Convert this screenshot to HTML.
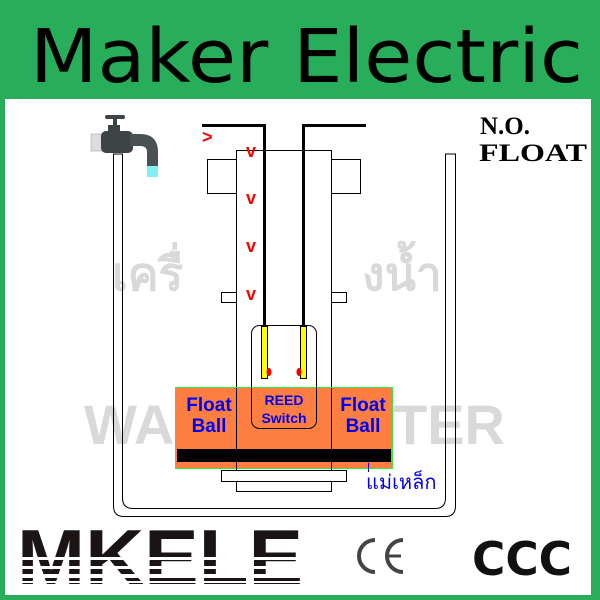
<!DOCTYPE html>
<html><head><meta charset="utf-8"><style>
html,body{margin:0;padding:0;background:#fff;}
svg{display:block;}
</style></head><body>
<svg width="600" height="600" viewBox="0 0 600 600" xmlns="http://www.w3.org/2000/svg">
<rect x="0" y="0" width="600" height="600" fill="#28ad5b"/>
<rect x="5" y="99" width="586" height="496" fill="#fff"/>
<text x="30" y="82" font-family="DejaVu Sans, sans-serif" font-size="74" fill="#000" textLength="553" lengthAdjust="spacingAndGlyphs">Maker Electric</text>

<!-- watermarks -->
<text x="112" y="290" font-family="Liberation Sans, Noto Sans CJK SC, sans-serif" font-size="46" font-weight="bold" fill="#d9d9d9">เครื่</text>
<text x="362" y="290" font-family="Liberation Sans, Noto Sans CJK SC, sans-serif" font-size="46" font-weight="bold" fill="#d9d9d9">งน้ำ</text>
<text x="84" y="444" font-family="Liberation Sans, sans-serif" font-size="56" font-weight="bold" fill="#d9d9d9">WA</text>
<text x="393" y="444" font-family="Liberation Sans, sans-serif" font-size="56" font-weight="bold" fill="#d9d9d9">TER</text>

<!-- tank -->
<path d="M113.5 154 V506 Q113.5 516.5 124 516.5 H445 Q455.5 516.5 455.5 506 V154 H445.5 V498 Q445.5 508.5 435 508.5 H133 Q122.5 508.5 122.5 498 V154 Z" fill="none" stroke="#000" stroke-width="1"/>

<!-- faucet -->
<rect x="91" y="134" width="12" height="17" fill="#ddd" stroke="#999" stroke-width="0.5"/>
<rect x="101" y="131" width="32" height="22" rx="5" fill="#3e4446"/>
<rect x="108" y="125" width="12" height="8" fill="#3e4446"/>
<rect x="105" y="115" width="20" height="4" rx="2" fill="#3e4446"/>
<rect x="113" y="117" width="4" height="10" fill="#3e4446"/>
<path d="M130 134 H140 Q158 134 158 152 V166 H147 V152 Q147 146 140 146 H130 Z" fill="#4a5153"/>
<rect x="147" y="166" width="11" height="11" fill="#7ff0f5"/>

<!-- rod -->
<rect x="236.5" y="150.5" width="95" height="341" fill="#fff" stroke="#000" stroke-width="1"/>
<rect x="207.5" y="159.5" width="29" height="34" fill="#fff" stroke="#000"/>
<rect x="331.5" y="159.5" width="29" height="34" fill="#fff" stroke="#000"/>
<rect x="221.5" y="292.5" width="15" height="10" fill="#fff" stroke="#000"/>
<rect x="331.5" y="292.5" width="15" height="10" fill="#fff" stroke="#000"/>

<!-- float -->
<rect x="175.5" y="387.5" width="217" height="81" fill="#fe7f41" stroke="#3ee53e" stroke-width="1"/>
<line x1="236.5" y1="388" x2="236.5" y2="469" stroke="#000"/>
<line x1="331.5" y1="388" x2="331.5" y2="469" stroke="#000"/>
<rect x="177" y="449" width="214" height="13" fill="#000"/>
<rect x="221.5" y="470.5" width="125" height="11" fill="#fff" stroke="#000"/>

<!-- reed capsule -->
<rect x="251.5" y="325.5" width="65" height="103" rx="8" fill="none" stroke="#000"/>

<!-- wires -->
<path d="M202 125.5 H264.5 V326" fill="none" stroke="#000" stroke-width="3"/>
<path d="M303.5 326 V125.5 H366" fill="none" stroke="#000" stroke-width="3"/>
<rect x="261.5" y="326.5" width="6" height="52" fill="#ff0" stroke="#000"/>
<rect x="300.5" y="326.5" width="6" height="52" fill="#ff0" stroke="#000"/>
<ellipse cx="269" cy="372" rx="2.5" ry="4" fill="#e00"/>
<ellipse cx="299" cy="372" rx="2.5" ry="4" fill="#e00"/>

<!-- red v marks -->
<g font-family="Liberation Sans, sans-serif" font-size="18" font-weight="bold" fill="#f00">
<text x="202" y="143">&gt;</text>
<text x="246" y="157">v</text>
<text x="246" y="204">v</text>
<text x="246" y="252">v</text>
<text x="246" y="300">v</text>
</g>

<!-- float labels -->
<g font-family="Liberation Sans, sans-serif" font-weight="bold" fill="#0000f0" text-anchor="middle">
<text x="209" y="411" font-size="19">Float</text>
<text x="209" y="432" font-size="19">Ball</text>
<text x="363" y="411" font-size="19">Float</text>
<text x="363" y="432" font-size="19">Ball</text>
<text x="284" y="405" font-size="14">REED</text>
<text x="284" y="423" font-size="14">Switch</text>
</g>
<line x1="368.5" y1="463" x2="368.5" y2="472" stroke="#0000f0"/>
<text x="366" y="489" font-family="Liberation Sans, Noto Sans CJK SC, sans-serif" font-size="20" fill="#0000f0">แม่เหล็ก</text>

<!-- N.O. FLOAT -->
<g font-family="Liberation Serif, serif" font-weight="bold" font-size="25" fill="#000">
<text x="480" y="134">N.O.</text>
<text x="479" y="161" textLength="108" lengthAdjust="spacingAndGlyphs">FLOAT</text>
</g>

<!-- MKELE -->
<defs>
<clipPath id="mk"><rect x="15" y="527" width="290" height="60"/></clipPath>
</defs>
<g clip-path="url(#mk)">
<text x="17" y="584" font-family="Liberation Sans, sans-serif" font-weight="bold" font-size="78" fill="#1a1414" textLength="286" lengthAdjust="spacingAndGlyphs">MKELE</text>
<rect x="15" y="557" width="290" height="3" fill="#fff"/>
<rect x="15" y="566" width="290" height="3" fill="#fff"/>
<rect x="15" y="574" width="290" height="4" fill="#fff"/>
<rect x="15" y="581" width="290" height="2" fill="#fff"/>
</g>
<path d="M375 540 A16 16 0 0 0 375 572" fill="none" stroke="#444" stroke-width="4"/>
<path d="M403 540 A16 16 0 0 0 403 572" fill="none" stroke="#444" stroke-width="4"/>
<line x1="389" y1="556" x2="401" y2="556" stroke="#444" stroke-width="3"/>
<text x="472" y="575" font-family="DejaVu Sans, sans-serif" font-weight="bold" font-size="46" fill="#111" textLength="100" lengthAdjust="spacingAndGlyphs">CCC</text>
</svg>
</body></html>
